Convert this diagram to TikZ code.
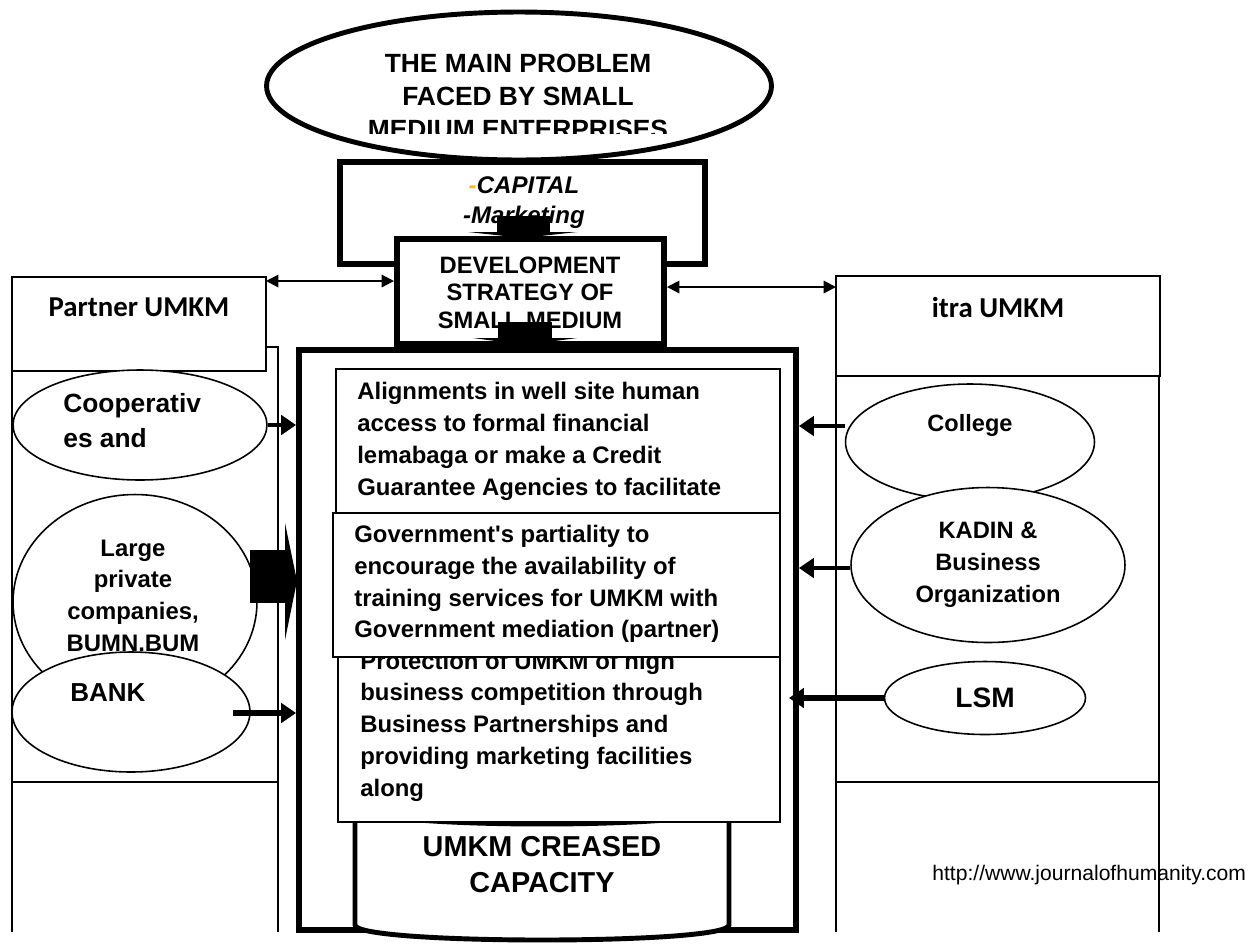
\documentclass[tikz,border=0pt]{standalone}
\usepackage{fontspec}
\setmainfont{Liberation Sans}
\newfontfamily\calibri{Carlito}
\usetikzlibrary{shapes.geometric,arrows.meta,calc}
\definecolor{capgold}{RGB}{255,192,0}

\begin{document}
\begin{tikzpicture}[
    x=0.02cm, y=-0.02cm,
    heavy/.style={draw, line width=3.4pt, fill=white, inner sep=0pt},
    panel/.style={draw, line width=0.9pt, fill=white, inner sep=0pt, outer sep=0pt},
    oval/.style={draw, ellipse, line width=0.9pt, fill=white, inner sep=0pt},
    txt/.style={inner sep=0pt, font=\fontsize{13.6}{18.1}\selectfont\bfseries, align=left},
    link/.style={-{Triangle[length=8.5pt,width=11pt]}, line width=2.6pt},
    duplex/.style={{Triangle[length=7pt,width=7pt]}-{Triangle[length=7pt,width=7pt]}, line width=1.1pt}
  ]
  \useasboundingbox (0,0) rectangle (1254,944);

  % side panels
  \node[panel, minimum width=5.32cm, minimum height=8.7cm] (llow) at (145,564.5) {};
  \node[panel, minimum width=5.08cm, minimum height=1.88cm] (lhead) at (139,324) {};
  \node[panel, minimum width=6.46cm, minimum height=8.12cm] (rlow) at (997.5,579) {};
  \node[panel, minimum width=6.48cm, minimum height=2cm] (rhead) at (998,326) {};
  \draw[line width=0.9pt] (llow.south west) -- ++(0,150) (llow.south east) -- ++(0,150);
  \draw[line width=0.9pt] (rlow.south west) -- ++(0,150) (rlow.south east) -- ++(0,150);
  \node[font=\calibri\bfseries\fontsize{16.4}{20}\selectfont, inner sep=0pt] (ltitle) at (139,307) {Partner UMKM};
  \node[font=\calibri\bfseries\fontsize{16.4}{20}\selectfont, inner sep=0pt] (rtitle) at (998,307) {itra UMKM};

  % left partners
  \node[oval, minimum width=5.08cm, minimum height=2.2cm] (coop) at (140,425) {};
  \node[txt, font=\fontsize{15}{19.9}\selectfont\bfseries, anchor=west] (coopt) at (63,420.5) {Cooperativ\\es and};
  \node[oval, minimum width=4.88cm, minimum height=4.3cm] (large) at (135,602) {};
  \node[txt, align=center] (larget) at (133,595.75) {Large\\private\\companies,\\BUMN.BUM};
  \node[oval, minimum width=4.76cm, minimum height=2.4cm] (bank) at (131,712) {};
  \node[txt, font=\fontsize{14.8}{18}\selectfont\bfseries, anchor=west] (bankt) at (70,693) {BANK};

  % right partners
  \node[oval, minimum width=4.98cm, minimum height=2.32cm] (college) at (970,442) {};
  \node[txt, font=\fontsize{13.4}{18}\selectfont\bfseries] (collegt) at (970,425) {College};
  \node[oval, minimum width=5.48cm, minimum height=3.1cm, align=center,
        font=\fontsize{13.5}{18.2}\selectfont\bfseries] (kadin) at (988,565) {KADIN \&\\Business\\Organization};
  \node[oval, minimum width=4.02cm, minimum height=1.46cm,
        font=\fontsize{16}{19}\selectfont\bfseries] (lsm) at (985,698) {LSM};

  % strategy frame
  \node[heavy, minimum width=9.94cm, minimum height=11.6cm] (main) at (547.5,640) {};
  \filldraw[fill=white, line width=2.8pt] (355,808) -- (355,925)
     .. controls (355,945) and (729,945) .. (729,925) -- (729,808);
  \draw[line width=2.8pt] (542,808) ellipse [x radius=187, y radius=16];
  \node[txt, align=center, font=\fontsize{16.4}{20.5}\selectfont\bfseries] (capac) at (542,865) {UMKM CREASED\\CAPACITY};

  \node[panel, minimum width=8.88cm, minimum height=3.22cm] (s1) at (558,449.5) {};
  \node[txt, anchor=west] (s1t) at (357,441.5) {Alignments in well site human\\access to formal financial\\lemabaga or make a Credit\\Guarantee Agencies to facilitate};
  \node[panel, minimum width=8.84cm, minimum height=3.64cm] (s3) at (559,731) {};
  \node[txt, anchor=west] (s3t) at (360,726.6) {Protection of UMKM of high\\business competition through\\Business Partnerships and\\providing marketing facilities\\along};
  \node[panel, minimum width=8.94cm, minimum height=2.88cm] (s2) at (556.5,585) {};
  \node[txt, anchor=west] (s2t) at (354,584) {Government\textquotesingle s partiality to\\encourage the availability of\\training services for UMKM with\\Government mediation (partner)};

  % problem and strategy
  \node[heavy, minimum width=7.3cm, minimum height=2.04cm] (cap) at (522.5,213) {};
  \node[txt, align=center, font=\fontsize{13.7}{17}\selectfont\bfseries\itshape] (capt) at (524,203) {{\color{capgold}-}CAPITAL\\-Marketing};
  \node[heavy, ellipse, line width=2.8pt, minimum width=10.1cm, minimum height=2.96cm] (prob) at (519,86) {};
  \begin{scope}
    \clip (0,0) rectangle (1254,133);
    \node[txt, align=center, font=\fontsize{15}{18.8}\selectfont\bfseries] (probt) at (518,96) {THE MAIN PROBLEM\\FACED BY SMALL\\MEDIUM ENTERPRISES};
  \end{scope}
  \node[heavy, minimum width=5.34cm, minimum height=2.1cm] (dev) at (530.5,291.5) {};
  \begin{scope}
    \clip (0,0) rectangle (1254,328);
    \node[txt, align=center, font=\fontsize{13.5}{15.6}\selectfont\bfseries] (devt) at (530,292.7) {DEVELOPMENT\\STRATEGY OF\\SMALL MEDIUM};
  \end{scope}

  % block arrows
  \fill (497,216) rectangle (550,233);
  \fill (468,232) -- (577,232) -- (523,238) -- cycle;
  \fill (498,322) rectangle (552,340);
  \fill (473,338) -- (577,338) -- (525,345) -- cycle;
  \fill (250,550) rectangle (285,603);
  \fill (285,523) -- (297,581) -- (285,640) -- cycle;

  % connectors
  \coordinate (la) at ($(lhead.north east)+(0,4)$);
  \draw[duplex] (la) -- (la -| dev.west);
  \coordinate (ra) at ($(rhead.north west)+(0,11)$);
  \draw[duplex] (ra -| dev.east) -- (ra);
  \draw[link] (coop.east) -- (coop.east -| main.west);
  \coordinate (bk) at ($(bank.east)+(-18,1)$);
  \draw[link, line width=3pt] (bk) -- (bk -| main.west);
  \coordinate (cg) at ($(college.west)+(0,-16)$);
  \draw[link] (cg) -- (cg -| main.east);
  \coordinate (kd) at ($(kadin.west)+(0,3)$);
  \draw[link] (kd) -- (kd -| main.east);
  \draw[link, line width=3.4pt] (lsm.west) -- ($(lsm.west -| main.east)+(-10,0)$);

  \node[inner sep=0pt, anchor=west, font=\fontsize{12}{14}\selectfont] (url) at (932,875) {http://www.journalofhumanity.com};
\end{tikzpicture}
\end{document}
